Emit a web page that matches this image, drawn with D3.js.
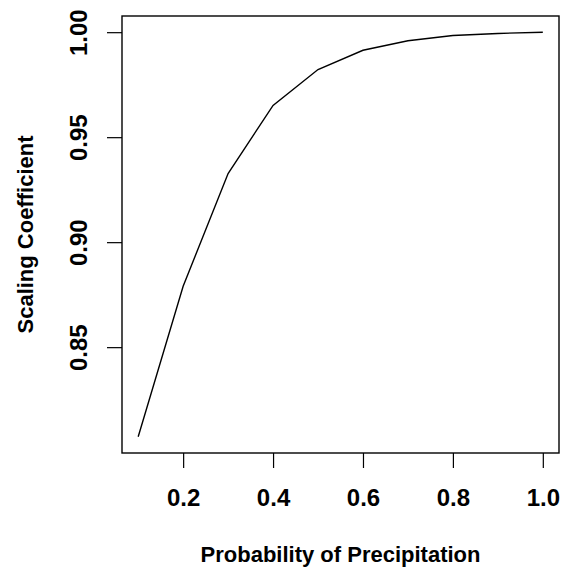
<!DOCTYPE html>
<html>
<head>
<meta charset="utf-8">
<script src="https://cdn.jsdelivr.net/npm/d3@7"></script>
<style>
  html, body { margin: 0; padding: 0; background: #fff; }
  svg { display: block; }
  text { font-family: "Liberation Sans", Arial, sans-serif; font-weight: bold; fill: #000; }
</style>
</head>
<body>
<svg id="chart" width="562" height="572"></svg>
<script>
// Probability of precipitation vs. scaling coefficient
const probability = [0.1, 0.2, 0.3, 0.4, 0.5, 0.6, 0.7, 0.8, 0.9, 1.0];
const coefficient = [0.8073, 0.8790, 0.9327, 0.9651, 0.9822, 0.9914, 0.9959, 0.9984, 0.9994, 1.0000];
const xTicks = [0.2, 0.4, 0.6, 0.8, 1.0];
const yTicks = [0.85, 0.90, 0.95, 1.00];
const xTitle = "Probability of Precipitation";
const yTitle = "Scaling Coefficient";

const svg = d3.select("#chart");
const box = { left: 122, right: 559, top: 16, bottom: 453 };

// Axis ranges padded by 4% on each side
function padded(vals) {
  const [lo, hi] = d3.extent(vals);
  const p = (hi - lo) * 0.04;
  return [lo - p, hi + p];
}
const x = d3.scaleLinear().domain(padded(probability)).range([box.left, box.right]);
const y = d3.scaleLinear().domain(padded(coefficient)).range([box.bottom, box.top]);

// Data line
const line = d3.line().x((d, i) => x(probability[i])).y(d => y(d));
svg.append("path")
  .datum(coefficient)
  .attr("d", line)
  .attr("fill", "none")
  .attr("stroke", "#000")
  .attr("stroke-width", 1.4);

// Plot frame
svg.append("rect")
  .attr("x", box.left).attr("y", box.top)
  .attr("width", box.right - box.left).attr("height", box.bottom - box.top)
  .attr("fill", "none").attr("stroke", "#000").attr("stroke-width", 1.4);

// Bottom axis
const xAxis = svg.append("g")
  .attr("transform", `translate(0,${box.bottom})`)
  .call(d3.axisBottom(x).tickValues(xTicks).tickSize(15).tickPadding(24).tickFormat(d3.format(".1f")));
xAxis.select(".domain").remove();
xAxis.selectAll(".tick line").attr("stroke-width", 1.2);
xAxis.selectAll(".tick text")
  .attr("font-size", 24).attr("dy", null).attr("y", 53)
  .attr("font-family", "Liberation Sans, Arial, sans-serif").attr("font-weight", "bold");

// Left axis with rotated labels
const yAxis = svg.append("g")
  .attr("transform", `translate(${box.left},0)`)
  .call(d3.axisLeft(y).tickValues(yTicks).tickSize(15).tickFormat(d3.format(".2f")));
yAxis.select(".domain").remove();
yAxis.selectAll(".tick line").attr("stroke-width", 1.2);
yAxis.selectAll(".tick text")
  .attr("x", null).attr("dy", null)
  .attr("transform", "translate(-35,0) rotate(-90)")
  .attr("text-anchor", "middle")
  .attr("font-size", 24)
  .attr("font-family", "Liberation Sans, Arial, sans-serif").attr("font-weight", "bold");

// Axis titles
svg.append("text")
  .attr("x", (box.left + box.right) / 2).attr("y", 562)
  .attr("text-anchor", "middle").attr("font-size", 22)
  .text(xTitle);
svg.append("text")
  .attr("transform", `translate(33,${(box.top + box.bottom) / 2}) rotate(-90)`)
  .attr("text-anchor", "middle").attr("font-size", 22)
  .text(yTitle);
</script>
</body>
</html>
